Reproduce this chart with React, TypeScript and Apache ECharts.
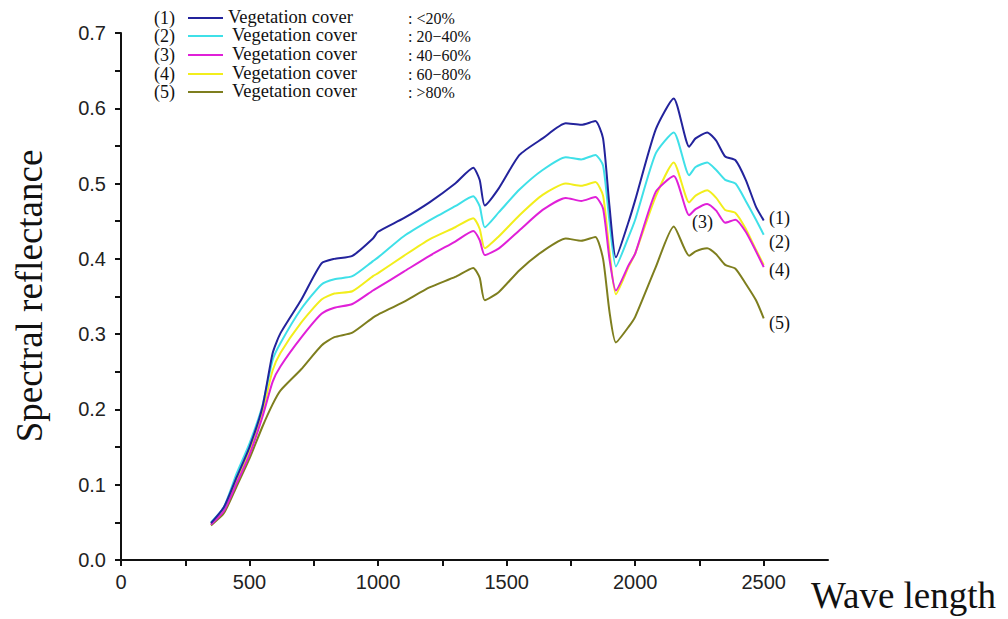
import React, { useEffect, useRef } from "react";
import * as echarts from "echarts";

const wavelengths = [350, 400, 450, 500, 550, 590, 620, 700, 780, 830, 900, 980, 1000, 1100, 1200, 1300, 1370, 1395, 1415, 1470, 1550, 1640, 1730, 1790, 1845, 1875, 1900, 1925, 1975, 2000, 2080, 2150, 2210, 2235, 2280, 2315, 2350, 2390, 2430, 2470, 2500];

const cover20 = [0.049, 0.07, 0.11, 0.15, 0.203, 0.275, 0.301, 0.345, 0.394, 0.4, 0.404, 0.427, 0.436, 0.454, 0.475, 0.5, 0.521, 0.505, 0.471, 0.494, 0.538, 0.56, 0.58, 0.578, 0.583, 0.56, 0.47, 0.402, 0.45, 0.478, 0.572, 0.613, 0.549, 0.56, 0.568, 0.557, 0.536, 0.531, 0.505, 0.469, 0.451];
const cover20_40 = [0.05, 0.07, 0.115, 0.155, 0.205, 0.266, 0.288, 0.333, 0.366, 0.373, 0.377, 0.397, 0.402, 0.43, 0.451, 0.47, 0.483, 0.47, 0.442, 0.462, 0.492, 0.518, 0.535, 0.532, 0.538, 0.524, 0.45, 0.39, 0.43, 0.452, 0.54, 0.568, 0.511, 0.522, 0.528, 0.518, 0.505, 0.5, 0.477, 0.452, 0.432];
const cover40_60 = [0.047, 0.065, 0.102, 0.14, 0.19, 0.237, 0.257, 0.295, 0.327, 0.335, 0.34, 0.358, 0.362, 0.383, 0.404, 0.423, 0.437, 0.425, 0.405, 0.414, 0.438, 0.465, 0.481, 0.477, 0.482, 0.467, 0.4, 0.358, 0.392, 0.407, 0.489, 0.51, 0.458, 0.466, 0.473, 0.464, 0.448, 0.452, 0.436, 0.41, 0.389];
const cover60_80 = [0.048, 0.067, 0.106, 0.145, 0.197, 0.252, 0.275, 0.315, 0.346, 0.354, 0.357, 0.377, 0.381, 0.404, 0.426, 0.442, 0.454, 0.44, 0.414, 0.43, 0.458, 0.485, 0.5, 0.497, 0.502, 0.484, 0.41, 0.353, 0.39, 0.407, 0.483, 0.528, 0.475, 0.484, 0.491, 0.481, 0.465, 0.461, 0.44, 0.412, 0.392];
const cover80 = [0.046, 0.062, 0.098, 0.135, 0.177, 0.207, 0.225, 0.253, 0.285, 0.296, 0.302, 0.322, 0.326, 0.343, 0.362, 0.376, 0.388, 0.375, 0.345, 0.356, 0.385, 0.41, 0.427, 0.424, 0.429, 0.4, 0.33, 0.289, 0.31, 0.323, 0.389, 0.443, 0.404, 0.41, 0.414, 0.406, 0.392, 0.387, 0.367, 0.345, 0.321];

const seriesNames = ["(1)", "(2)", "(3)", "(4)", "(5)"];
const legendRanges = [": <20%", ": 20\u221240%", ": 40\u221260%", ": 60\u221280%", ": >80%"];
const colors = ["#23239c", "#3fe0e8", "#e020d8", "#f2ee1c", "#7e7e1e"];
const allValues = [cover20, cover20_40, cover40_60, cover60_80, cover80];

const serif = "'Liberation Serif', 'DejaVu Serif', serif";
const sans = "'Liberation Sans', Arial, sans-serif";

export default function App() {
  const ref = useRef<HTMLDivElement>(null);
  useEffect(() => {
    if (!ref.current) return;
    const chart = echarts.init(ref.current, null, { renderer: "svg" });
    const legendRowsY = [18, 36, 55, 74, 92];
    const legendGraphics: any[] = [];
    seriesNames.forEach((n, i) => {
      const y = legendRowsY[i];
      legendGraphics.push({
        type: "text",
        x: 154,
        y: y,
        style: { text: n, font: `18px ${serif}`, fill: "#111", verticalAlign: "middle", lineHeight: 16 },
      });
      legendGraphics.push({ type: "line", shape: { x1: 188, y1: y, x2: 223, y2: y }, style: { stroke: colors[i], lineWidth: 2 } });
      legendGraphics.push({
        type: "text",
        x: i === 0 ? 228 : 232,
        y: y - 1,
        style: { text: "Vegetation cover", font: `18.5px ${serif}`, fill: "#111", verticalAlign: "middle", lineHeight: 16 },
      });
      legendGraphics.push({
        type: "text",
        x: 408,
        y: y,
        style: { text: legendRanges[i], font: `16px ${serif}`, fill: "#111", verticalAlign: "middle", lineHeight: 15 },
      });
    });
    const endLabels = [
      { t: "(1)", x: 769, y: 209 },
      { t: "(2)", x: 769, y: 233 },
      { t: "(3)", x: 692, y: 213 },
      { t: "(4)", x: 769, y: 261 },
      { t: "(5)", x: 769, y: 314 },
    ];
    endLabels.forEach((l) => {
      legendGraphics.push({ type: "text", left: l.x, top: l.y, style: { text: l.t, font: `18px ${serif}`, fill: "#111" } });
    });
    legendGraphics.push({ type: "text", left: 811, top: 577, style: { text: "Wave length", font: `37px ${serif}`, fill: "#111" } });
    legendGraphics.push({
      type: "text",
      x: 29,
      y: 296,
      rotation: Math.PI / 2,
      style: { text: "Spectral reflectance", font: `37px ${serif}`, fill: "#111", align: "center", verticalAlign: "middle" },
    });

    chart.setOption({
      animation: false,
      backgroundColor: "#fff",
      grid: { left: 121, right: 1008 - 828, top: 33, bottom: 619 - 560, containLabel: false },
      xAxis: {
        type: "value",
        min: 0,
        max: 2750,
        interval: 250,
        axisLine: { onZero: false, lineStyle: { color: "#111", width: 2 } },
        axisTick: { show: true, length: 6, lineStyle: { color: "#111", width: 2 } },
        axisLabel: {
          color: "#222",
          fontFamily: sans,
          fontSize: 20,
          margin: 12,
          showMaxLabel: false,
          formatter: (v: number) => (v % 500 === 0 ? String(v) : ""),
        },
        splitLine: { show: false },
      },
      yAxis: {
        type: "value",
        min: 0,
        max: 0.7,
        interval: 0.05,
        axisLine: { show: true, onZero: false, lineStyle: { color: "#111", width: 2 } },
        axisTick: { show: true, length: 6, lineStyle: { color: "#111", width: 2 } },
        axisLabel: {
          color: "#222",
          fontFamily: sans,
          fontSize: 20,
          margin: 15,
          formatter: (v: number) => (Math.round(v * 100) % 10 === 0 ? v.toFixed(1) : ""),
        },
        splitLine: { show: false },
      },
      series: allValues.map((vals, i) => ({
        name: seriesNames[i],
        type: "line",
        data: wavelengths.map((w, j) => [w, vals[j]]),
        showSymbol: false,
        smooth: 0.2,
        z: 10 - i,
        lineStyle: { color: colors[i], width: 2 },
        itemStyle: { color: colors[i] },
      })),
      graphic: legendGraphics,
    });
    return () => chart.dispose();
  }, []);
  return <div ref={ref} style={{ position: "fixed", left: 0, top: 0, width: 1008, height: 619 }} />;
}
